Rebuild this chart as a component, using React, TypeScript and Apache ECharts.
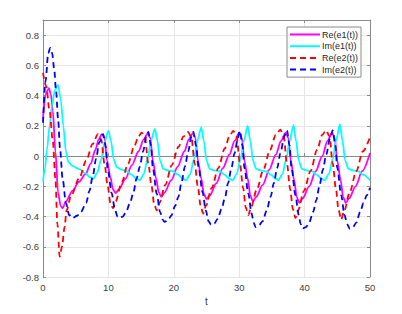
import React, { useEffect, useRef } from "react";
import * as echarts from "echarts";

const seriesNames = ["Re(e1(t))", "Im(e1(t))", "Re(e2(t))", "Im(e2(t))"];
const seriesColors = ["#ff00ff", "#00ffff", "#ff0000", "#0000ff"];
const xTicks = [0, 10, 20, 30, 40, 50];
const yTicks = [-0.8, -0.6, -0.4, -0.2, 0, 0.2, 0.4, 0.6, 0.8];

const reE1: number[][] = [
  [0, 0.25], [0.4, 0.41], [0.9, 0.45], [1.2, 0.41], [1.5, 0.3], [1.9, 0.03], [2.3, -0.24], [2.7, -0.33], [3.0, -0.345],
  [3.5, -0.3], [4.5, -0.23], [5.5, -0.17], [6.5, -0.12], [7.3, -0.05], [8.0, 0.04], [8.5, 0.11], [9.0, 0.145],
  [9.4, 0.12], [9.8, -0.03], [10.3, -0.14], [10.7, -0.22], [11.1, -0.245],
  [11.6, -0.22], [12.6, -0.15], [13.6, -0.06], [14.6, 0.03], [15.4, 0.11], [16.0, 0.15],
  [16.4, 0.12], [16.8, -0.03], [17.3, -0.15], [17.7, -0.24], [18.1, -0.27],
  [18.6, -0.24], [19.6, -0.16], [20.6, -0.07], [21.6, 0.03], [22.3, 0.11], [22.9, 0.15],
  [23.3, 0.12], [23.7, -0.03], [24.2, -0.15], [24.6, -0.25], [25.0, -0.285],
  [25.5, -0.26], [26.5, -0.18], [27.5, -0.08], [28.5, 0.01], [29.3, 0.1], [30.0, 0.155],
  [30.4, 0.12], [30.8, -0.03], [31.3, -0.15], [31.7, -0.26], [32.1, -0.3],
  [32.6, -0.27], [33.6, -0.19], [34.6, -0.09], [35.6, 0.01], [36.4, 0.1], [37.1, 0.155],
  [37.5, 0.12], [37.9, -0.03], [38.4, -0.16], [38.8, -0.27], [39.2, -0.31],
  [39.7, -0.28], [40.7, -0.2], [41.7, -0.1], [42.7, 0.0], [43.5, 0.1], [44.2, 0.155],
  [44.6, 0.12], [45.0, -0.03], [45.5, -0.16], [45.9, -0.27], [46.3, -0.31],
  [46.8, -0.28], [47.8, -0.2], [48.8, -0.1], [50, 0.02],
];

const imE1: number[][] = [
  [0, -0.17], [0.3, -0.08], [0.6, 0.04], [1.0, 0.2], [1.4, 0.34], [1.8, 0.435], [2.3, 0.47], [2.7, 0.38], [3.1, 0.2],
  [3.5, 0.03], [3.9, -0.04], [4.5, -0.065], [5.5, -0.085], [6.5, -0.115], [7.2, -0.14], [7.7, -0.15],
  [8.3, -0.11], [8.9, -0.02], [9.4, 0.09], [10.0, 0.167], [10.4, 0.1], [10.8, -0.02], [11.3, -0.075], [12.0, -0.09],
  [12.8, -0.1], [13.6, -0.125], [14.3, -0.15], [14.8, -0.16],
  [15.4, -0.12], [16.0, -0.02], [16.5, 0.1], [17.1, 0.18], [17.5, 0.1], [17.9, -0.03], [18.4, -0.085], [19.1, -0.095],
  [19.9, -0.1], [20.7, -0.125], [21.4, -0.15], [21.9, -0.16],
  [22.5, -0.12], [23.1, -0.02], [23.6, 0.1], [24.2, 0.19], [24.6, 0.1], [25.0, -0.03], [25.5, -0.085], [26.2, -0.095],
  [27.0, -0.1], [27.8, -0.125], [28.5, -0.15], [29.0, -0.16],
  [29.6, -0.12], [30.2, -0.02], [30.7, 0.1], [31.3, 0.2], [31.7, 0.1], [32.1, -0.03], [32.6, -0.085], [33.3, -0.095],
  [34.1, -0.1], [34.9, -0.125], [35.6, -0.15], [36.0, -0.16],
  [36.6, -0.12], [37.2, -0.02], [37.7, 0.1], [38.3, 0.205], [38.7, 0.1], [39.1, -0.03], [39.6, -0.085], [40.3, -0.095],
  [41.1, -0.1], [41.9, -0.125], [42.6, -0.15], [43.1, -0.16],
  [43.7, -0.12], [44.3, -0.02], [44.8, 0.1], [45.4, 0.21], [45.8, 0.1], [46.2, -0.03], [46.7, -0.085], [47.4, -0.095],
  [48.2, -0.1], [49.0, -0.125], [50, -0.16],
];

const reE2: number[][] = [
  [0, 0.55], [0.5, 0.46], [1.0, 0.3], [1.5, 0.1], [1.9, -0.15], [2.2, -0.45], [2.55, -0.665], [2.9, -0.6], [3.3, -0.47],
  [3.6, -0.36], [4.3, -0.26], [5.6, -0.14], [6.6, -0.03], [7.6, 0.08], [8.4, 0.145],
  [8.9, 0.11], [9.4, -0.05], [9.9, -0.2], [10.3, -0.31], [10.7, -0.345],
  [11.1, -0.3], [12.0, -0.18], [13.0, -0.05], [14.0, 0.07], [14.6, 0.13], [15.1, 0.155],
  [15.6, 0.12], [16.1, -0.05], [16.6, -0.2], [17.0, -0.32], [17.4, -0.36],
  [17.8, -0.31], [18.7, -0.19], [19.7, -0.06], [20.7, 0.06], [21.5, 0.13], [22.2, 0.16],
  [22.7, 0.12], [23.2, -0.05], [23.7, -0.21], [24.1, -0.33], [24.5, -0.38],
  [24.9, -0.33], [25.8, -0.21], [26.8, -0.08], [27.8, 0.05], [28.5, 0.13], [29.1, 0.167],
  [29.6, 0.13], [30.1, -0.05], [30.6, -0.21], [31.0, -0.34], [31.4, -0.39],
  [31.8, -0.34], [32.7, -0.22], [33.7, -0.09], [34.7, 0.04], [35.6, 0.14], [36.3, 0.175],
  [36.8, 0.13], [37.3, -0.05], [37.8, -0.22], [38.2, -0.35], [38.6, -0.41],
  [39.0, -0.36], [39.9, -0.23], [40.9, -0.1], [41.9, 0.04], [42.7, 0.14], [43.3, 0.17],
  [43.8, 0.13], [44.3, -0.05], [44.8, -0.22], [45.2, -0.36], [45.6, -0.42],
  [46.0, -0.37], [46.9, -0.24], [47.9, -0.1], [48.9, 0.03], [50, 0.125],
];

const imE2: number[][] = [
  [0, 0.22], [0.4, 0.5], [0.8, 0.68], [1.1, 0.715], [1.4, 0.68], [1.7, 0.58], [2.0, 0.43], [2.3, 0.25], [2.6, 0.05],
  [3.0, -0.15], [3.5, -0.31], [4.0, -0.39], [4.5, -0.41], [5.2, -0.395], [5.8, -0.37], [6.6, -0.31], [7.1, -0.23],
  [7.6, -0.136], [8.1, -0.02], [8.6, 0.09], [9.2, 0.145],
  [9.6, 0.06], [9.9, -0.09], [10.5, -0.245], [11.0, -0.356], [11.4, -0.4], [11.7, -0.41],
  [12.2, -0.4], [12.7, -0.37], [13.3, -0.31], [13.8, -0.246], [14.3, -0.15], [14.8, -0.07], [15.3, 0.03], [15.8, 0.13], [16.1, 0.16],
  [16.5, 0.07], [16.8, -0.08], [17.4, -0.25], [17.9, -0.37], [18.3, -0.42], [18.6, -0.435],
  [19.1, -0.425], [19.6, -0.395], [20.2, -0.33], [20.7, -0.27], [21.2, -0.17], [21.7, -0.07], [22.2, 0.03], [22.7, 0.13], [23.0, 0.16],
  [23.4, 0.07], [23.8, -0.08], [24.4, -0.24], [24.9, -0.36], [25.3, -0.43], [25.7, -0.455],
  [26.2, -0.445], [26.7, -0.415], [27.3, -0.35], [27.8, -0.28], [28.3, -0.18], [28.8, -0.08], [29.3, 0.02], [29.8, 0.12], [30.1, 0.167],
  [30.5, 0.07], [30.8, -0.08], [31.4, -0.25], [31.9, -0.38], [32.2, -0.44], [32.5, -0.47],
  [33.0, -0.46], [33.6, -0.43], [34.2, -0.36], [34.8, -0.27], [35.3, -0.18], [35.8, -0.08], [36.3, 0.02], [36.9, 0.13], [37.3, 0.17],
  [37.7, 0.07], [38.0, -0.08], [38.6, -0.26], [39.1, -0.39], [39.4, -0.45], [39.7, -0.48],
  [40.2, -0.47], [40.7, -0.44], [41.3, -0.37], [41.8, -0.29], [42.3, -0.19], [42.8, -0.09], [43.3, 0.01], [43.9, 0.12], [44.3, 0.17],
  [44.7, 0.07], [45.0, -0.08], [45.6, -0.26], [46.1, -0.39], [46.5, -0.45], [46.9, -0.48],
  [47.4, -0.47], [47.9, -0.44], [48.5, -0.37], [49.0, -0.31], [49.5, -0.26], [50, -0.21],
];

const seriesData = [reE1, imE1, reE2, imE2];
const dashed = [false, false, true, true];

const FONT = "'Liberation Sans', Arial, Helvetica, sans-serif";
const AXIS_COLOR = "#8a8a8a";
const TEXT_COLOR = "#404040";
const GRID_COLOR = "#e6e6e6";

export default function App() {
  const ref = useRef<HTMLDivElement>(null);
  useEffect(() => {
    if (!ref.current) return;
    const chart = echarts.init(ref.current, undefined, { renderer: "svg" });
    const xCommon = {
      type: "value" as const,
      min: xTicks[0],
      max: xTicks[xTicks.length - 1],
      interval: 10,
    };
    const yCommon = {
      type: "value" as const,
      min: yTicks[0],
      max: 0.9,
      interval: 0.2,
    };
    chart.setOption({
      animation: false,
      backgroundColor: "#ffffff",
      textStyle: { fontFamily: FONT },
      grid: { left: 43, right: 32, top: 20, bottom: 37, containLabel: false },
      legend: {
        orient: "vertical",
        left: 287,
        top: 27,
        padding: [3, 3, 3, 2],
        itemWidth: 30,
        itemHeight: 10,
        itemGap: 2.7,
        backgroundColor: "#ffffff",
        borderColor: "#8a8a8a",
        borderWidth: 1,
        borderRadius: 0,
        itemStyle: { opacity: 0, borderWidth: 0 },
        textStyle: { fontSize: 9, color: "#262626", fontFamily: FONT, padding: [0, 0, 0, -3] },
        data: seriesNames,
      },
      xAxis: [
        {
          ...xCommon,
          position: "bottom",
          name: "t",
          nameLocation: "middle",
          nameGap: 19,
          nameTextStyle: { fontSize: 10, color: TEXT_COLOR, fontFamily: FONT },
          axisLine: { show: true, lineStyle: { color: AXIS_COLOR, width: 1 } },
          axisTick: { show: true, inside: true, length: 3, lineStyle: { color: AXIS_COLOR } },
          axisLabel: {
            fontSize: 9.5, color: TEXT_COLOR, margin: 5, fontFamily: FONT,
            customValues: xTicks,
          },
          splitLine: { show: true, lineStyle: { color: GRID_COLOR, width: 1 } },
        },
        {
          ...xCommon,
          position: "top",
          axisLine: { show: true, onZero: false, lineStyle: { color: AXIS_COLOR, width: 1 } },
          axisTick: { show: true, inside: true, length: 3, lineStyle: { color: AXIS_COLOR } },
          axisLabel: { show: false },
          splitLine: { show: false },
        },
      ],
      yAxis: [
        {
          ...yCommon,
          position: "left",
          axisLine: { show: true, onZero: false, lineStyle: { color: AXIS_COLOR, width: 1 } },
          axisTick: { show: true, inside: true, length: 3, lineStyle: { color: AXIS_COLOR }, customValues: yTicks },
          axisLabel: {
            fontSize: 9.5, color: TEXT_COLOR, margin: 4, fontFamily: FONT,
            customValues: yTicks,
            formatter: (v: number) => (Math.abs(v) < 1e-9 ? "0" : String(Math.round(v * 10) / 10)),
          },
          splitLine: { show: true, lineStyle: { color: GRID_COLOR, width: 1 } },
        },
        {
          ...yCommon,
          position: "right",
          axisLine: { show: true, onZero: false, lineStyle: { color: AXIS_COLOR, width: 1 } },
          axisTick: { show: true, inside: true, length: 3, lineStyle: { color: AXIS_COLOR }, customValues: yTicks },
          axisLabel: { show: false },
          splitLine: { show: false },
        },
      ],
      series: seriesNames.map((name, i) => ({
        name,
        type: "line",
        xAxisIndex: 0,
        yAxisIndex: 0,
        data: seriesData[i],
        symbol: "none",
        smooth: 0.3,
        smoothMonotone: "x",
        lineStyle: {
          color: seriesColors[i],
          width: 1.8,
          type: dashed[i] ? [6, 4] : "solid",
        },
        itemStyle: { color: seriesColors[i] },
        z: 2 + i,
      })),
    });
    return () => chart.dispose();
  }, []);
  return <div ref={ref} style={{ width: 402, height: 314, position: "absolute", left: 0, top: 0 }} />;
}
